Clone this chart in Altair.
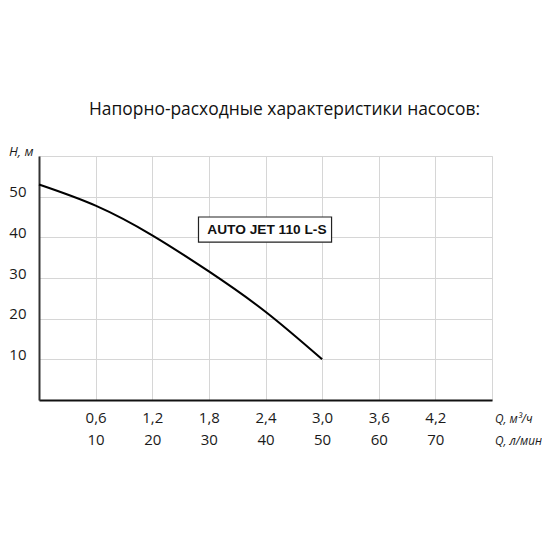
import json
import altair as alt
import pandas as pd

# ---- data ----
q_m3h = [0.0, 0.6, 1.2, 1.8, 2.4, 3.0]
head_m = [53.0, 47.8, 40.5, 31.6, 21.7, 10.0]

x_grid = [0.0, 0.6, 1.2, 1.8, 2.4, 3.0, 3.6, 4.2, 4.8]
x_lab_m3h = ["", "0,6", "1,2", "1,8", "2,4", "3,0", "3,6", "4,2", ""]
x_lab_lpm = ["", "10", "20", "30", "40", "50", "60", "70", ""]

y_grid = [0, 5, 10, 15, 20, 25, 30, 35, 40, 45, 50, 55, 60]
y_labels = [10, 20, 30, 40, 50]

title_text = "Напорно-расходные характеристики насосов:"
x_titles = ["Q, м³/ч", "Q, л/мин"]
y_title = "H, м"

model_name = ["AUTO JET 110 L-S"]
box_x = [1.69]
box_x2 = [3.10]
box_y = [38.8]
box_y2 = [45.0]
label_x = [2.415]
label_y = [41.9]

FONT = "Open Sans"

curve = pd.DataFrame({"q": q_m3h, "h": head_m})
box = pd.DataFrame({"x": box_x, "x2": box_x2, "y": box_y, "y2": box_y2})
lab = pd.DataFrame({"x": label_x, "y": label_y, "t": model_name})

pairs = [[a, b] if a else "" for a, b in zip(x_lab_m3h, x_lab_lpm)]
x_label_expr = f"{json.dumps(pairs, ensure_ascii=False)}[indexof({json.dumps(x_grid)}, datum.value)]"
y_label_expr = f"indexof({json.dumps(y_labels)}, datum.value) >= 0 ? datum.label : ''"

xscale = alt.Scale(domain=[0, 4.8], nice=False, zero=False)
yscale = alt.Scale(domain=[0, 60], nice=False)

x_axis = alt.Axis(
    values=x_grid, labelExpr=x_label_expr, grid=True, gridColor="#d6d6d6", gridWidth=1,
    ticks=False, tickSize=0, labelPadding=22.7, labelBaseline="alphabetic",
    labelLineHeight=22.3, labelFont=FONT, labelFontSize=15, labelColor="#1a1a1a",
    labelFlush=False, labelOverlap=False, domainColor="#111111", domainWidth=2,
    title=x_titles, titleX=455.5, titleY=22.7, titleAlign="left", titleAngle=0,
    titleBaseline="alphabetic", titleLineHeight=22.3, titleFont=FONT,
    titleFontSize=11.8, titleFontStyle="italic", titleFontWeight="normal", titleColor="#1a1a1a",
)
y_axis = alt.Axis(
    values=y_grid, labelExpr=y_label_expr, grid=True, gridColor="#d6d6d6", gridWidth=1,
    ticks=False, tickSize=0, labelPadding=13, labelBaseline="alphabetic",
    labelFont=FONT, labelFontSize=15, labelColor="#1a1a1a", labelFlush=False,
    labelOverlap=False, domainColor="#333333", domainWidth=2,
    title=y_title, titleX=-30.5, titleY=-1, titleAlign="left", titleAngle=0,
    titleBaseline="alphabetic", titleFont=FONT, titleFontSize=13,
    titleFontStyle="italic", titleFontWeight="normal", titleColor="#1a1a1a",
)

line = alt.Chart(curve).mark_line(color="black", strokeWidth=2.1, interpolate="natural").encode(
    x=alt.X("q:Q", scale=xscale, axis=x_axis),
    y=alt.Y("h:Q", scale=yscale, axis=y_axis),
)

rect = alt.Chart(box).mark_rect(fill="white", stroke="#222222", strokeWidth=1.2).encode(
    x=alt.X("x:Q", scale=xscale), x2="x2:Q",
    y=alt.Y("y:Q", scale=yscale), y2="y2:Q",
)

text = alt.Chart(lab).mark_text(
    font="Liberation Sans", fontSize=13.7, fontWeight="bold", color="#111111",
    align="center", baseline="middle",
).encode(
    x=alt.X("x:Q", scale=xscale), y=alt.Y("y:Q", scale=yscale), text="t:N"
)

chart = alt.layer(line, rect, text).properties(
    width=453, height=244,
    title=alt.TitleParams(
        title_text, anchor="middle", frame="group", font=FONT, fontSize=17.4,
        fontWeight="normal", color="#111111", dx=19, offset=12, baseline="alphabetic",
    ),
    autosize=alt.AutoSizeParams(type="none"),
    padding={"left": 31, "top": 148, "right": 50, "bottom": 60},
).configure_view(stroke=None).configure(background="white")

chart.save("out.html", embed_options={"renderer": "svg", "actions": False})
